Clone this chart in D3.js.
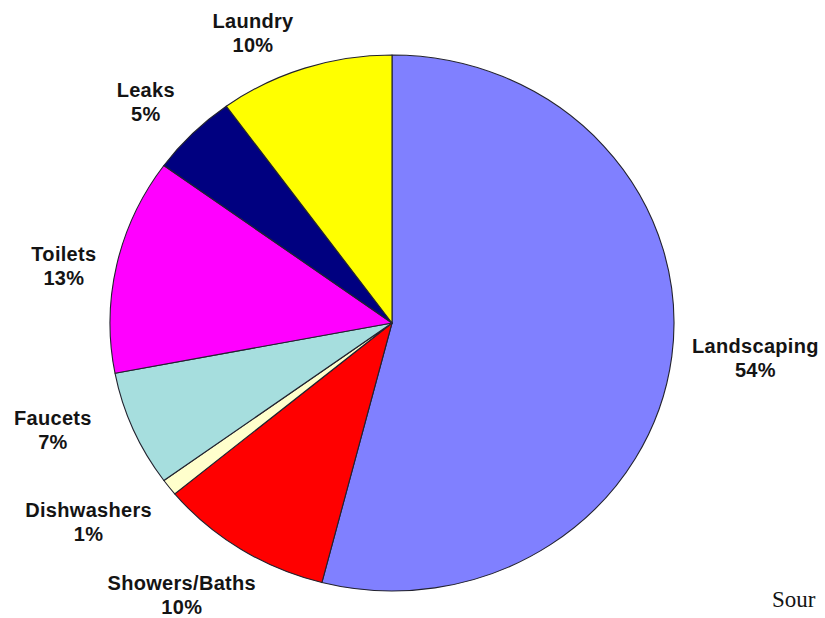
<!DOCTYPE html>
<html>
<head>
<meta charset="utf-8">
<script src="https://cdn.jsdelivr.net/npm/d3@7"></script>
<style>
  html, body { margin: 0; padding: 0; background: #fff; }
  svg { display: block; }
  .lbl { font-family: "Liberation Sans", Arial, sans-serif; font-weight: bold; font-size: 20px; letter-spacing: 0.3px; fill: #141414; }
  .src { font-family: "Liberation Serif", "Times New Roman", serif; font-size: 23px; fill: #141414; }
</style>
</head>
<body>
<svg id="chart" width="825" height="618"></svg>
<script>
// Residential water use by category (percent)
const categories = ["Landscaping", "Showers/Baths", "Dishwashers", "Faucets", "Toilets", "Leaks", "Laundry"];
const values = [54, 10, 1, 7, 13, 5, 10];
const colors = ["#8080FF", "#FF0000", "#FFFFCC", "#A6DEDE", "#FF00FF", "#000080", "#FFFF00"];

// Hand-placed label nudges (px) relative to the radial label anchor
const labelNudge = [[39, -4], [-35, 8], [-45, 7], [-39, -17], [-9, 11], [-15, 0], [-38, 8]];

const W = 825, H = 618;
const cx = 392, cy = 323;
const ry = 268, rx = 282;          // pie is drawn slightly wider than tall
const labelGap = 45;

const svg = d3.select("#chart");

const data = categories.map((c, i) => ({ name: c, value: values[i], color: colors[i], nudge: labelNudge[i] }));

const pie = d3.pie().sort(null).value(d => d.value).startAngle(0).endAngle(2 * Math.PI);
const arcs = pie(data);
const arc = d3.arc().innerRadius(0).outerRadius(ry);

const g = svg.append("g")
  .attr("transform", `translate(${cx},${cy}) scale(${rx / ry},1)`);

g.selectAll("path")
  .data(arcs)
  .join("path")
  .attr("d", arc)
  .attr("fill", d => d.data.color)
  .attr("stroke", "#22222e")
  .attr("stroke-width", 1.1)
  .attr("vector-effect", "non-scaling-stroke")
  .attr("stroke-linejoin", "round");

// Labels: name on the first line, percent on the second
const labels = svg.append("g");
arcs.forEach(d => {
  const a = (d.startAngle + d.endAngle) / 2;
  const x = cx + Math.sin(a) * (rx + labelGap) + d.data.nudge[0];
  const y = cy - Math.cos(a) * (ry + labelGap) + d.data.nudge[1];
  const t = labels.append("text")
    .attr("class", "lbl")
    .attr("text-anchor", "middle")
    .attr("x", x)
    .attr("y", y - 5);
  t.append("tspan").attr("x", x).text(d.data.name);
  t.append("tspan").attr("x", x).attr("dy", 24).text(d3.format(".0%")(d.data.value / 100));
});

// Source note at the lower right edge
svg.append("text")
  .attr("class", "src")
  .attr("x", 772)
  .attr("y", 607)
  .text("Sour");
</script>
</body>
</html>
